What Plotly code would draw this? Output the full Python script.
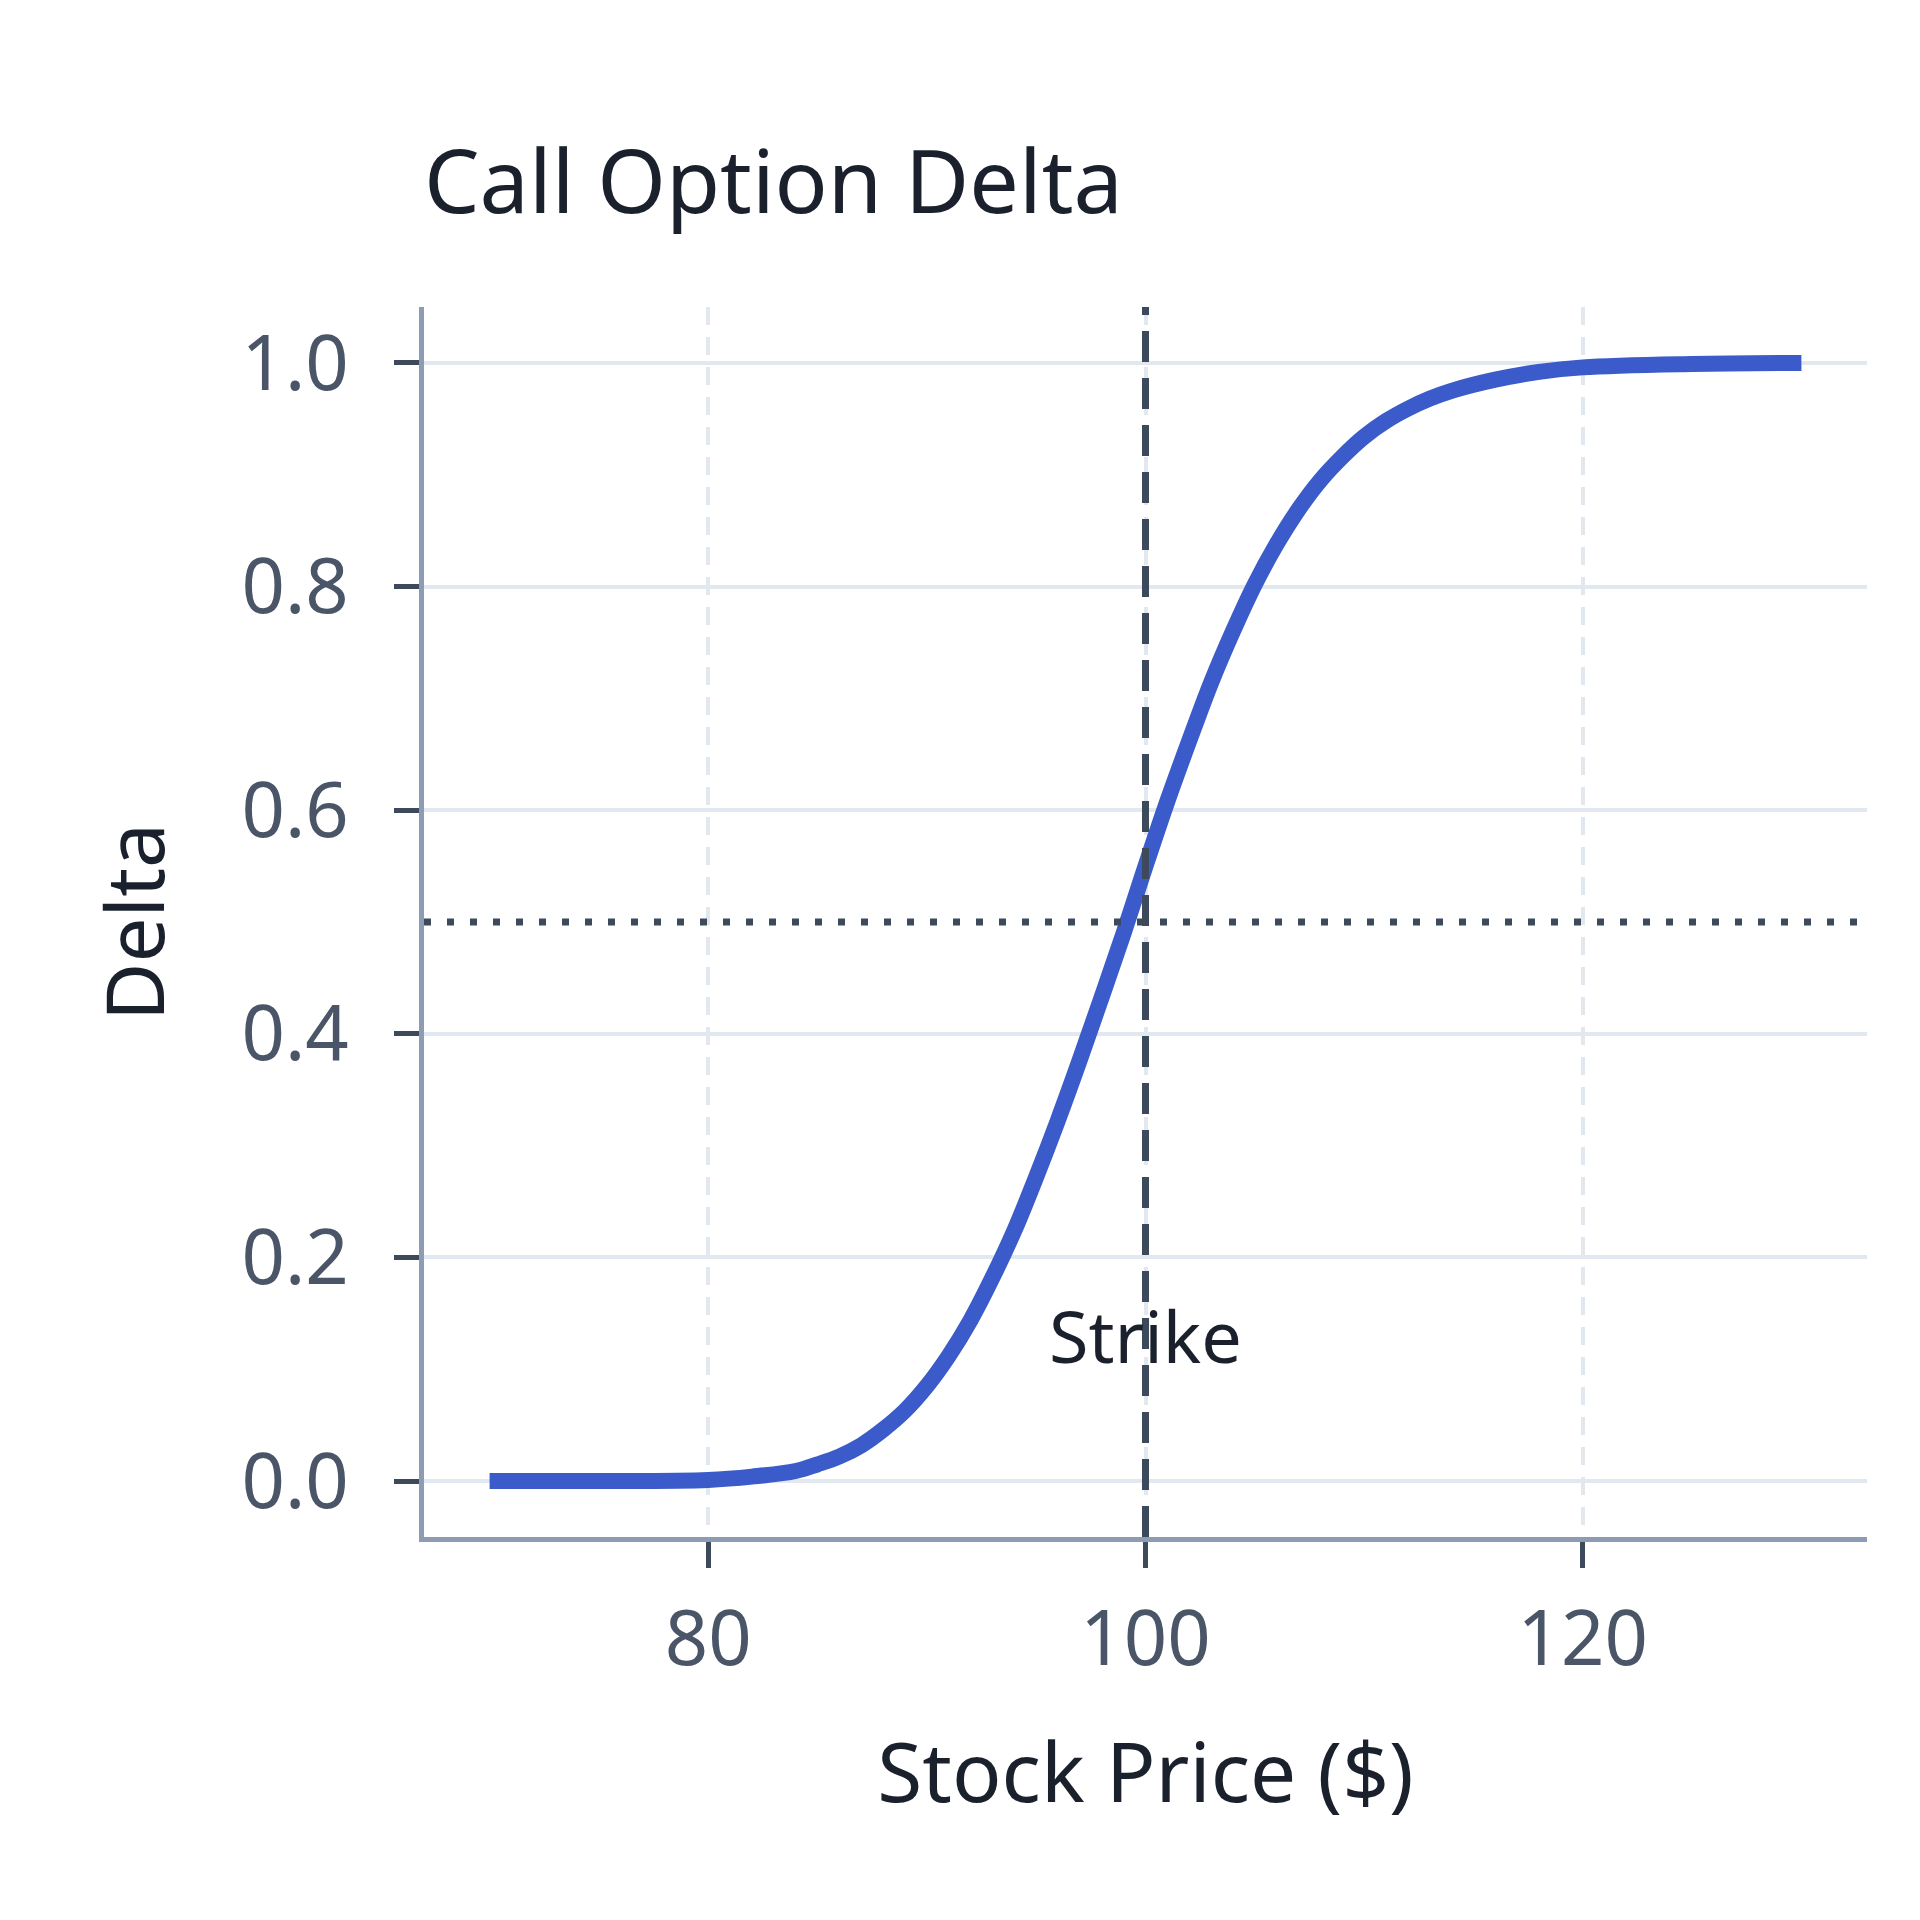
"""Call option delta vs. stock price, strike marked at 100."""
import plotly.graph_objects as go

# values
stock_price = [70, 75, 80, 82, 84, 85, 86, 87, 88, 89, 90, 91, 92, 93, 94, 95, 96, 97, 98, 99,
               100, 101, 102, 103, 104, 105, 106, 107, 108, 109, 110, 111, 112, 113, 114, 116,
               118, 120, 125, 130]
delta = [0.000, 0.000, 0.001, 0.004, 0.009, 0.015, 0.022, 0.032, 0.046, 0.063, 0.085, 0.112,
         0.144, 0.182, 0.224, 0.272, 0.323, 0.377, 0.433, 0.490, 0.550, 0.608, 0.662, 0.714,
         0.760, 0.802, 0.838, 0.869, 0.895, 0.916, 0.934, 0.948, 0.959, 0.968, 0.975, 0.985,
         0.992, 0.996, 0.999, 1.000]
strike = 100
atm_delta = 0.5
x_ticks = [80, 100, 120]
y_ticks = [0.0, 0.2, 0.4, 0.6, 0.8, 1.0]

FONT = "Noto Sans"
BLUE = "#3a5bc9"
INK = "#1a202c"
SLATE = "#4a5568"
MARK = "#3d4a5c"
AXIS = "#8d9cb2"
GRID = "#e2e8f0"

fig = go.Figure(go.Scatter(
    x=stock_price, y=delta, mode="lines", line=dict(color=BLUE, width=16, shape="spline"),
    showlegend=False, hoverinfo="x+y"))

fig.add_shape(type="line", xref="x", yref="paper", x0=strike, x1=strike, y0=0, y1=1,
              line=dict(color=MARK, width=7, dash="31px,16px"), layer="above")
fig.add_shape(type="line", xref="paper", yref="y", x0=0, x1=1, y0=atm_delta, y1=atm_delta,
              line=dict(color=MARK, width=7, dash="7px,16px"), layer="above")
fig.add_annotation(x=strike, y=0.131, text="Strike", showarrow=False,
                   font=dict(family=FONT, size=72, color=INK))

fig.update_layout(
    width=1920, height=1920, paper_bgcolor="white", plot_bgcolor="white",
    font=dict(family=FONT, color=SLATE),
    margin=dict(l=416, r=61, t=299, b=391),
    title=dict(text="Call Option Delta", x=416 / 1920, xanchor="left", xref="container",
               y=1 - 174 / 1920, yanchor="middle", yref="container",
               font=dict(family=FONT, size=88, color=INK)),
)

fig.update_xaxes(
    range=[67, 133], tickvals=x_ticks, ticks="outside", ticklen=26, tickwidth=5, tickcolor=MARK,
    tickfont=dict(size=76, color=SLATE), ticklabelstandoff=6,
    showline=True, linecolor=AXIS, linewidth=5,
    showgrid=True, gridcolor=GRID, gridwidth=4, griddash="18px,12px", zeroline=False,
    title=dict(text="Stock Price ($)", font=dict(size=82, color=INK), standoff=60))
fig.update_yaxes(
    range=[-0.05, 1.05], tickvals=y_ticks, tickformat=".1f", ticks="outside", ticklen=25,
    tickwidth=5, tickcolor=MARK, tickfont=dict(size=76, color=SLATE), ticklabelstandoff=30,
    showline=True, linecolor=AXIS, linewidth=5,
    showgrid=True, gridcolor=GRID, gridwidth=4, zeroline=False,
    title=dict(text="Delta", font=dict(size=80, color=INK), standoff=52))

fig.write_html("out.html")
